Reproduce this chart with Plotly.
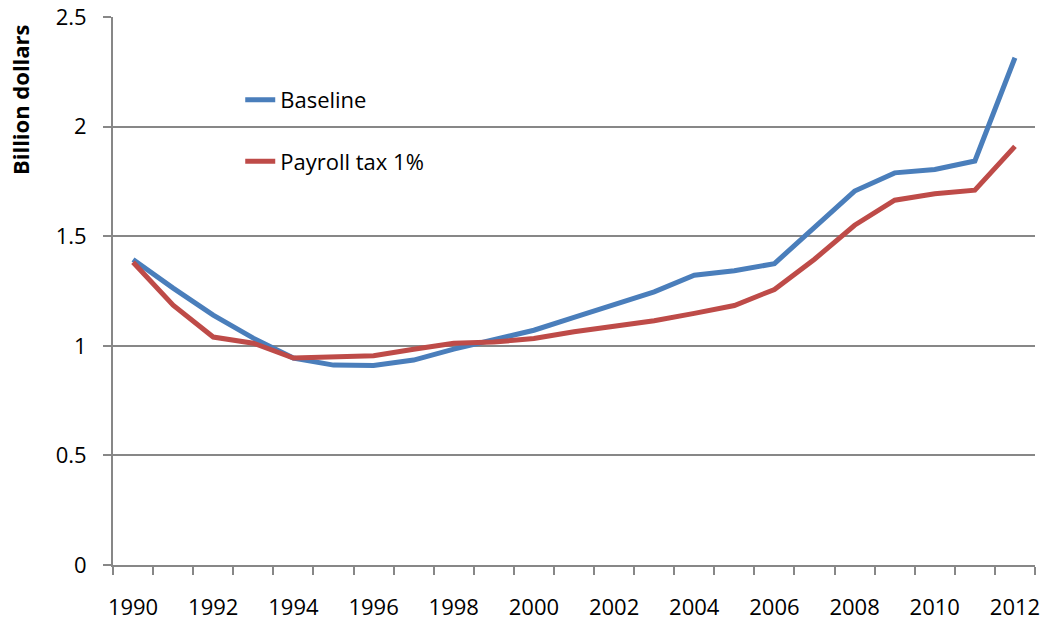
import plotly.graph_objects as go

years = list(range(1990, 2013))
baseline = [1.394, 1.263, 1.140, 1.035, 0.944, 0.912, 0.910, 0.935, 0.985, 1.026,
            1.071, 1.130, 1.188, 1.246, 1.322, 1.342, 1.375, 1.538, 1.706, 1.789,
            1.804, 1.843, 2.314]
payroll = [1.381, 1.185, 1.040, 1.012, 0.944, 0.948, 0.955, 0.984, 1.012, 1.017,
           1.033, 1.064, 1.091, 1.114, 1.148, 1.184, 1.257, 1.395, 1.550, 1.664,
           1.694, 1.710, 1.910]
x_labels = [str(y) for y in range(1990, 2013, 2)]
y_ticks = [0, 0.5, 1, 1.5, 2, 2.5]
y_labels = ["0", "0.5", "1", "1.5", "2", "2.5"]

BLUE = "#4A7EBB"
RED = "#BE4B48"
GRID = "#878787"
FONT = "Open Sans"

fig = go.Figure()
fig.add_trace(go.Scatter(x=years, y=baseline, mode="lines", name="Baseline",
                         line=dict(color=BLUE, width=5), legendgroup="a"))
fig.add_trace(go.Scatter(x=years, y=payroll, mode="lines", name="Payroll tax 1%",
                         line=dict(color=RED, width=5), legendgroup="b"))

boundaries = [y - 0.5 for y in years] + [years[-1] + 0.5]

fig.update_layout(
    width=1045, height=623,
    margin=dict(l=113, r=10, t=17, b=58, autoexpand=False),
    plot_bgcolor="white", paper_bgcolor="white",
    font=dict(family=FONT, size=22, color="black"),
    showlegend=True,
    legend=dict(x=0.138, y=0.887, xanchor="left", yanchor="top",
                bgcolor="rgba(0,0,0,0)", font=dict(size=22, family=FONT),
                tracegroupgap=30, traceorder="grouped"),
    xaxis=dict(range=[1989.5, 2012.5], tickvals=[int(t) for t in x_labels],
               ticktext=x_labels, ticks="", showgrid=False, zeroline=False,
               showline=True, linecolor=GRID, linewidth=2, automargin=False,
               ticklabelstandoff=22,
               minor=dict(tickvals=boundaries, ticks="outside", ticklen=8,
                          tickcolor=GRID, tickwidth=2, showgrid=False)),
    yaxis=dict(range=[0, 2.5], tickvals=y_ticks, ticktext=y_labels,
               ticks="outside", ticklen=8, tickcolor=GRID, tickwidth=2,
               showgrid=True, gridcolor=GRID, gridwidth=2, zeroline=False,
               showline=True, linecolor=GRID, linewidth=2, automargin=False,
               ticklabelstandoff=12),
    annotations=[dict(text="<b>Billion dollars</b>", textangle=-90,
                      xref="paper", yref="paper", x=-0.101, y=0.85,
                      xanchor="center", yanchor="middle", showarrow=False,
                      font=dict(size=22, family=FONT, color="black"))],
)

fig.write_html("out.html", config={"displayModeBar": False},
               post_script="document.body.style.margin='0';document.body.style.overflow='hidden';")
